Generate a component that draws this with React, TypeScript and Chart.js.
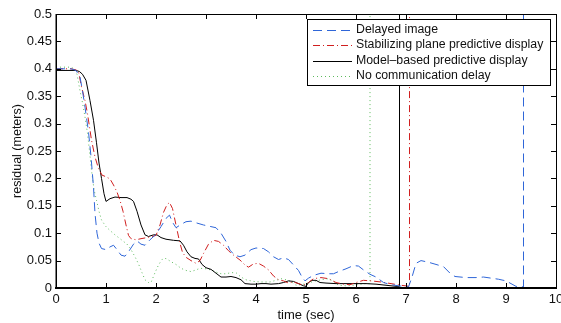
import React, { useEffect, useRef } from "react";
import { Chart, registerables } from "chart.js";

Chart.register(...registerables);

// ---------- data ----------
const seriesLabels = [
  "Delayed image",
  "Stabilizing plane predictive display",
  "Model\u2013based predictive display",
  "No communication delay",
];

const xTickValues = [0, 1, 2, 3, 4, 5, 6, 7, 8, 9, 10];
const yTickValues = [0, 0.05, 0.1, 0.15, 0.2, 0.25, 0.3, 0.35, 0.4, 0.45, 0.5];

const delayedX = [0, 0.3, 0.4, 0.48, 0.53, 0.58, 0.65, 0.7, 0.75, 0.78, 0.82, 0.86, 0.91, 1.0, 1.08, 1.15, 1.22, 1.3, 1.38, 1.45, 1.55, 1.62, 1.7, 1.78, 1.88, 2.0, 2.1, 2.2, 2.27, 2.33, 2.4, 2.5, 2.6, 2.7, 2.8, 2.95, 3.1, 3.2, 3.3, 3.4, 3.48, 3.57, 3.68, 3.78, 3.9, 4.0, 4.15, 4.25, 4.35, 4.45, 4.55, 4.65, 4.75, 4.85, 4.92, 4.98, 5.05, 5.15, 5.3, 5.45, 5.55, 5.65, 5.8, 5.95, 6.05, 6.15, 6.28, 6.4, 6.55, 6.7, 6.85, 7.05, 7.12, 7.2, 7.3, 7.45, 7.6, 7.75, 7.88, 7.98, 8.2, 8.4, 8.55, 8.7, 8.85, 9.0, 9.1, 9.2, 9.35, 9.35];
const delayedY = [0.4, 0.4, 0.397, 0.385, 0.36, 0.33, 0.285, 0.24, 0.184, 0.136, 0.1, 0.082, 0.072, 0.07, 0.075, 0.078, 0.07, 0.06, 0.058, 0.066, 0.08, 0.086, 0.08, 0.078, 0.088, 0.098, 0.112, 0.127, 0.133, 0.12, 0.11, 0.116, 0.121, 0.122, 0.119, 0.115, 0.112, 0.11, 0.1, 0.085, 0.069, 0.06, 0.057, 0.06, 0.07, 0.073, 0.072, 0.066, 0.057, 0.052, 0.055, 0.052, 0.042, 0.032, 0.02, 0.013, 0.018, 0.023, 0.027, 0.026, 0.026, 0.03, 0.035, 0.041, 0.04, 0.033, 0.025, 0.02, 0.01, 0.006, 0.004, 0.002, 0.02, 0.045, 0.05, 0.047, 0.043, 0.039, 0.027, 0.021, 0.019, 0.019, 0.02, 0.018, 0.016, 0.013, 0.008, 0.003, 0.002, 0.6];

const stabX = [0, 0.3, 0.4, 0.45, 0.51, 0.58, 0.63, 0.71, 0.78, 0.85, 0.92, 1.0, 1.08, 1.15, 1.22, 1.28, 1.34, 1.4, 1.45, 1.5, 1.6, 1.7, 1.82, 1.92, 2.0, 2.08, 2.15, 2.22, 2.27, 2.33, 2.4, 2.47, 2.53, 2.6, 2.7, 2.8, 2.88, 2.95, 3.05, 3.15, 3.25, 3.35, 3.45, 3.55, 3.68, 3.78, 3.85, 3.95, 4.05, 4.15, 4.25, 4.35, 4.45, 4.55, 4.65, 4.75, 4.85, 4.95, 5.05, 5.15, 5.3, 5.45, 5.6, 5.75, 5.88, 6.0, 6.15, 6.3, 6.5, 6.7, 6.9, 7.07, 7.07];
const stabY = [0.4, 0.4, 0.398, 0.395, 0.367, 0.342, 0.318, 0.27, 0.239, 0.218, 0.206, 0.203, 0.199, 0.188, 0.175, 0.16, 0.14, 0.115, 0.096, 0.09, 0.088, 0.09, 0.092, 0.094, 0.096, 0.115, 0.138, 0.152, 0.156, 0.145, 0.115, 0.085, 0.065, 0.056, 0.05, 0.045, 0.05, 0.063, 0.08, 0.087, 0.085, 0.078, 0.068, 0.06, 0.051, 0.042, 0.038, 0.044, 0.045, 0.04, 0.033, 0.022, 0.015, 0.013, 0.009, 0.011, 0.008, 0.005, 0.01, 0.017, 0.019, 0.017, 0.01, 0.007, 0.006, 0.01, 0.014, 0.013, 0.011, 0.008, 0.005, 0.003, 0.6];

const modelX = [0, 0.4, 0.47, 0.53, 0.6, 0.68, 0.75, 0.81, 0.86, 0.91, 0.96, 1.0, 1.08, 1.18, 1.3, 1.42, 1.5, 1.55, 1.62, 1.7, 1.78, 1.85, 1.95, 2.02, 2.1, 2.2, 2.35, 2.48, 2.55, 2.62, 2.7, 2.78, 2.85, 2.92, 3.0, 3.1, 3.2, 3.3, 3.4, 3.5, 3.6, 3.7, 3.78, 3.9, 4.0, 4.1, 4.2, 4.3, 4.45, 4.55, 4.65, 4.75, 4.85, 4.95, 5.0, 5.05, 5.12, 5.2, 5.28, 5.4, 5.6, 5.8, 6.0, 6.2, 6.4, 6.6, 6.8, 6.87, 6.87];
const modelY = [0.397, 0.397, 0.395, 0.39, 0.379, 0.342, 0.306, 0.265, 0.228, 0.2, 0.172, 0.158, 0.163, 0.166, 0.165, 0.165, 0.162, 0.158, 0.14, 0.115, 0.097, 0.094, 0.097, 0.097, 0.092, 0.089, 0.087, 0.086, 0.078, 0.066, 0.057, 0.054, 0.053, 0.043, 0.037, 0.034, 0.027, 0.02, 0.02, 0.021, 0.019, 0.015, 0.008, 0.007, 0.007, 0.008, 0.008, 0.007, 0.008, 0.01, 0.013, 0.012, 0.008, 0.004, 0.003, 0.01, 0.014, 0.014, 0.01, 0.009, 0.008, 0.008, 0.008, 0.008, 0.007, 0.005, 0.003, 0.003, 0.6];

const noDelayX = [0, 0.3, 0.36, 0.42, 0.48, 0.53, 0.58, 0.63, 0.67, 0.71, 0.76, 0.81, 0.86, 0.91, 1.0, 1.08, 1.18, 1.28, 1.35, 1.42, 1.5, 1.58, 1.65, 1.72, 1.78, 1.85, 1.9, 1.98, 2.05, 2.12, 2.2, 2.3, 2.4, 2.5, 2.6, 2.7, 2.8, 2.88, 3.0, 3.1, 3.2, 3.3, 3.4, 3.5, 3.6, 3.7, 3.8, 3.95, 4.1, 4.28, 4.4, 4.5, 4.6, 4.7, 4.8, 4.9, 5.0, 5.15, 5.3, 5.45, 5.55, 5.65, 5.8, 5.95, 6.1, 6.2, 6.28, 6.28];
const noDelayY = [0.403, 0.403, 0.4, 0.39, 0.36, 0.338, 0.312, 0.282, 0.25, 0.215, 0.18, 0.16, 0.14, 0.124, 0.112, 0.105, 0.097, 0.09, 0.085, 0.08, 0.07, 0.057, 0.044, 0.028, 0.015, 0.01, 0.01, 0.028, 0.042, 0.052, 0.054, 0.048, 0.043, 0.036, 0.032, 0.03, 0.033, 0.036, 0.035, 0.033, 0.029, 0.026, 0.026, 0.028, 0.028, 0.02, 0.015, 0.012, 0.011, 0.011, 0.014, 0.017, 0.015, 0.012, 0.005, 0.006, 0.008, 0.012, 0.015, 0.017, 0.012, 0.005, 0.004, 0.005, 0.007, 0.008, 0.008, 0.6];

// ---------- styles ----------
const FONT = "'Liberation Sans', Arial, Helvetica, sans-serif";
const seriesStyles = [
  { color: "#2f66d8", dash: [9, 5] },
  { color: "#d01f1f", dash: [7, 3, 1, 3] },
  { color: "#000000", dash: [] as number[] },
  { color: "#5cba5c", dash: [1, 3] },
];

const zip = (xs: number[], ys: number[]) => xs.map((x, i) => ({ x, y: ys[i] }));

const framePlugin = {
  id: "matlabFrame",
  afterDraw(chart: any) {
    const { ctx, chartArea, scales } = chart;
    const { left, right, top, bottom } = chartArea;
    const xs = scales.x;
    const ys = scales.y;
    ctx.save();
    ctx.strokeStyle = "#000";
    ctx.lineWidth = 1;
    ctx.setLineDash([]);
    // frame
    ctx.strokeRect(Math.round(left) + 0.5, Math.round(top) + 0.5, Math.round(right - left), Math.round(bottom - top));
    // inward ticks
    const tl = 5;
    ctx.beginPath();
    xTickValues.forEach((v) => {
      const px = Math.round(xs.getPixelForValue(v)) + 0.5;
      ctx.moveTo(px, bottom);
      ctx.lineTo(px, bottom - tl);
      ctx.moveTo(px, top);
      ctx.lineTo(px, top + tl);
    });
    yTickValues.forEach((v) => {
      const py = Math.round(ys.getPixelForValue(v)) + 0.5;
      ctx.moveTo(left, py);
      ctx.lineTo(left + tl, py);
      ctx.moveTo(right, py);
      ctx.lineTo(right - tl, py);
    });
    ctx.stroke();
    // heavier bottom and left axis lines
    ctx.lineWidth = 2;
    ctx.beginPath();
    ctx.moveTo(left - 1, Math.round(bottom));
    ctx.lineTo(right + 1, Math.round(bottom));
    ctx.stroke();
    ctx.lineWidth = 1.5;
    ctx.beginPath();
    ctx.moveTo(Math.round(left) + 0.25, top);
    ctx.lineTo(Math.round(left) + 0.25, bottom);
    ctx.stroke();

    // legend box
    const bx = 307, by = 19, bw = 243, bh = 66;
    ctx.fillStyle = "#fff";
    ctx.fillRect(bx, by, bw, bh);
    ctx.lineWidth = 1;
    ctx.strokeStyle = "#000";
    ctx.strokeRect(bx + 0.5, by + 0.5, bw, bh);
    ctx.font = `12.3px ${FONT}`;
    ctx.textBaseline = "middle";
    ctx.textAlign = "left";
    seriesLabels.forEach((label, i) => {
      const yy = by + 10.5 + i * 15.5;
      const st = seriesStyles[i];
      ctx.strokeStyle = st.color;
      ctx.setLineDash(st.dash);
      ctx.beginPath();
      ctx.moveTo(313, Math.round(yy) + 0.5);
      ctx.lineTo(352, Math.round(yy) + 0.5);
      ctx.stroke();
      ctx.setLineDash([]);
      ctx.fillStyle = "#111";
      ctx.fillText(label, 356, yy);
    });
    ctx.restore();
  },
};

export default function App() {
  const canvasRef = useRef<HTMLCanvasElement | null>(null);

  useEffect(() => {
    document.body.style.margin = "0";
    const canvas = canvasRef.current;
    if (!canvas) return;
    const dataSets = [
      zip(delayedX, delayedY),
      zip(stabX, stabY),
      zip(modelX, modelY),
      zip(noDelayX, noDelayY),
    ];
    const chart = new Chart(canvas, {
      type: "line",
      data: {
        datasets: dataSets.map((d, i) => ({
          label: seriesLabels[i],
          data: d,
          borderColor: seriesStyles[i].color,
          borderDash: seriesStyles[i].dash,
          borderWidth: 1,
          pointRadius: 0,
          tension: 0,
          fill: false,
        })),
      },
      options: {
        responsive: false,
        animation: false,
        events: [],
        layout: { padding: { top: 14, right: 5, left: 0, bottom: 0 } },
        plugins: {
          legend: { display: false },
          tooltip: { enabled: false },
          title: { display: false },
        },
        scales: {
          x: {
            type: "linear",
            min: 0,
            max: 10,
            grid: { display: false, drawTicks: false },
            border: { display: false },
            afterBuildTicks: (s: any) => {
              s.ticks = xTickValues.map((v) => ({ value: v }));
            },
            afterFit: (s: any) => {
              s.height = 35;
              s.paddingLeft = 0;
              s.paddingRight = 0;
            },
            ticks: {
              autoSkip: false,
              maxRotation: 0,
              padding: 4,
              color: "#111",
              font: { family: FONT, size: 13 },
              callback: (v: any) => String(v),
            },
            title: {
              display: true,
              text: "time (sec)",
              color: "#111",
              font: { family: FONT, size: 13 },
              padding: { top: 0, bottom: 0 },
            },
          },
          y: {
            type: "linear",
            min: 0,
            max: 0.5,
            grid: { display: false, drawTicks: false },
            border: { display: false },
            afterBuildTicks: (s: any) => {
              s.ticks = yTickValues.map((v) => ({ value: v }));
            },
            afterFit: (s: any) => {
              s.width = 56;
              s.paddingTop = 0;
              s.paddingBottom = 0;
            },
            ticks: {
              autoSkip: false,
              padding: 4,
              color: "#111",
              font: { family: FONT, size: 13 },
              callback: (v: any) => String(Number(Number(v).toFixed(2))),
            },
            title: {
              display: true,
              text: "residual (meters)",
              color: "#111",
              font: { family: FONT, size: 12.5 },
              padding: { top: 10.5, bottom: 0 },
            },
          },
        },
      },
      plugins: [framePlugin],
    });
    return () => chart.destroy();
  }, []);

  return (
    <div style={{ position: "absolute", left: 0, top: 0, width: 561, height: 323, background: "#fff" }}>
      <canvas ref={canvasRef} width={561} height={323} style={{ display: "block" }} />
    </div>
  );
}
